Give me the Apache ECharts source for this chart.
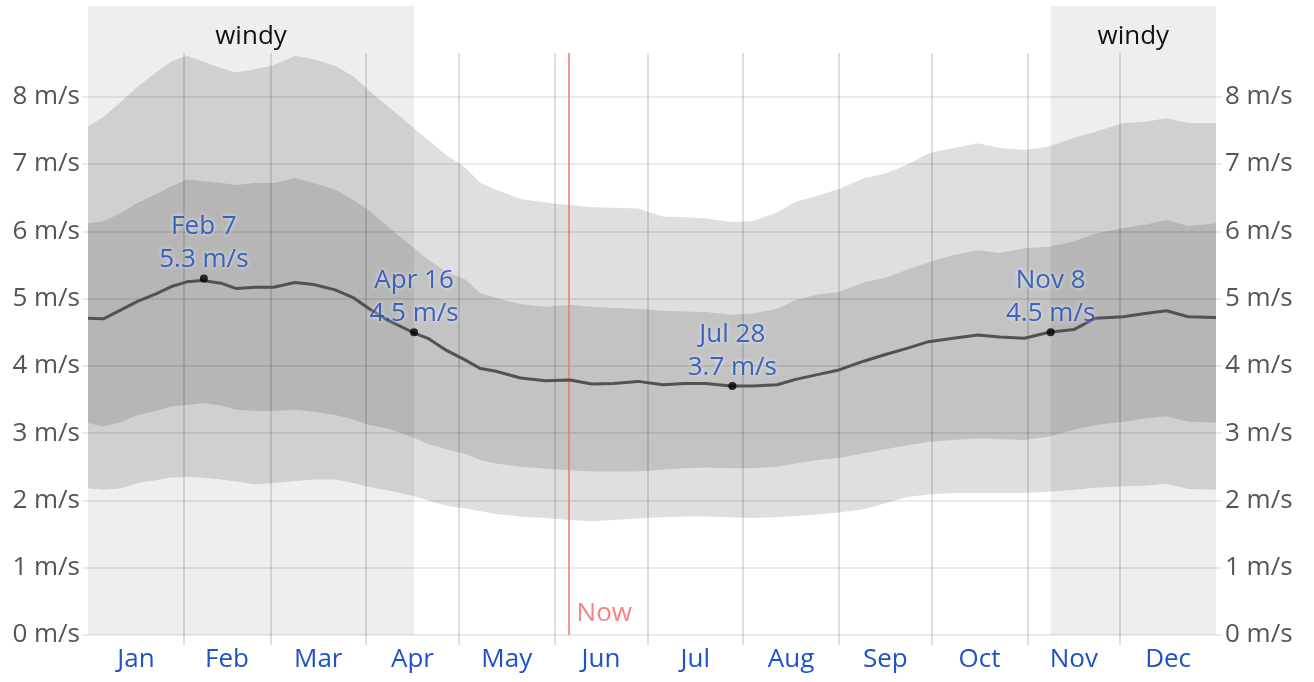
<!DOCTYPE html>
<html>
<head>
<meta charset="utf-8">
<title>Average wind speed</title>
<script src="https://cdn.jsdelivr.net/npm/echarts@6/dist/echarts.min.js"></script>
<style>
  html, body { margin: 0; padding: 0; background: #fff; }
  #chart { width: 1314px; height: 682px; }
</style>
</head>
<body>
<div id="chart"></div>
<script>
// day of year (0 = Jan 1)
const days = [0, 5, 11, 16, 22, 27, 32, 37, 43, 48,
  54, 60, 67, 73, 80, 86, 91, 97, 105, 110,
  116, 122, 127, 132, 140, 148, 156, 163, 170, 178,
  186, 193, 200, 208, 215, 223, 229, 236, 243, 251,
  258, 265, 272, 280, 288, 295, 303, 311, 319, 326,
  335, 342, 349, 356, 365]

// wind speed percentiles, m/s
const p10 = [2.18, 2.16, 2.18, 2.26, 2.30, 2.34, 2.35, 2.34, 2.31, 2.28,
  2.24, 2.26, 2.29, 2.31, 2.31, 2.26, 2.20, 2.15, 2.07, 2.00,
  1.92, 1.88, 1.84, 1.80, 1.76, 1.74, 1.71, 1.69, 1.71, 1.73,
  1.75, 1.76, 1.76, 1.75, 1.74, 1.75, 1.77, 1.79, 1.82, 1.87,
  1.96, 2.05, 2.09, 2.11, 2.11, 2.11, 2.11, 2.13, 2.16, 2.19,
  2.21, 2.22, 2.25, 2.17, 2.16]
const p25 = [3.15, 3.10, 3.17, 3.27, 3.33, 3.40, 3.42, 3.45, 3.41, 3.35,
  3.33, 3.33, 3.35, 3.32, 3.27, 3.20, 3.12, 3.07, 2.94, 2.84,
  2.76, 2.69, 2.60, 2.55, 2.50, 2.47, 2.45, 2.43, 2.43, 2.43,
  2.46, 2.48, 2.49, 2.48, 2.48, 2.50, 2.55, 2.60, 2.63, 2.70,
  2.76, 2.82, 2.87, 2.90, 2.92, 2.91, 2.90, 2.95, 3.05, 3.12,
  3.17, 3.22, 3.25, 3.17, 3.16]
const median = [4.71, 4.70, 4.84, 4.96, 5.07, 5.18, 5.25, 5.27, 5.23, 5.15,
  5.17, 5.17, 5.24, 5.21, 5.13, 5.01, 4.85, 4.68, 4.50, 4.41,
  4.23, 4.09, 3.96, 3.92, 3.82, 3.78, 3.79, 3.73, 3.74, 3.77,
  3.72, 3.74, 3.74, 3.70, 3.70, 3.72, 3.80, 3.87, 3.94, 4.07,
  4.17, 4.26, 4.36, 4.41, 4.46, 4.43, 4.41, 4.50, 4.54, 4.71,
  4.73, 4.78, 4.82, 4.73, 4.72]
const p75 = [6.12, 6.15, 6.28, 6.42, 6.55, 6.67, 6.77, 6.75, 6.72, 6.69,
  6.72, 6.72, 6.79, 6.72, 6.62, 6.46, 6.31, 6.07, 5.77, 5.58,
  5.40, 5.29, 5.08, 5.01, 4.92, 4.88, 4.91, 4.88, 4.86, 4.85,
  4.82, 4.81, 4.80, 4.76, 4.78, 4.85, 4.98, 5.06, 5.10, 5.24,
  5.31, 5.43, 5.54, 5.65, 5.72, 5.68, 5.75, 5.77, 5.85, 5.97,
  6.05, 6.10, 6.17, 6.08, 6.12]
const p90 = [7.56, 7.70, 7.94, 8.15, 8.36, 8.53, 8.61, 8.53, 8.43, 8.36,
  8.41, 8.47, 8.61, 8.56, 8.46, 8.30, 8.09, 7.86, 7.55, 7.36,
  7.13, 6.95, 6.72, 6.62, 6.48, 6.43, 6.39, 6.36, 6.35, 6.34,
  6.22, 6.21, 6.19, 6.14, 6.15, 6.28, 6.44, 6.53, 6.63, 6.79,
  6.86, 6.99, 7.16, 7.24, 7.31, 7.24, 7.21, 7.26, 7.39, 7.48,
  7.61, 7.63, 7.68, 7.61, 7.61]

const months = ['Jan', 'Feb', 'Mar', 'Apr', 'May', 'Jun', 'Jul', 'Aug', 'Sep', 'Oct', 'Nov', 'Dec']
const monthMids = [15.5, 45, 74.5, 105, 135.5, 166, 196.5, 227.5, 258, 288.5, 319, 349.5]
const monthStarts = [31, 59, 90, 120, 151, 181, 212, 243, 273, 304, 334]
const yTicks = [0, 1, 2, 3, 4, 5, 6, 7, 8]
const yMax = 9.35
// vertical lines stop below the "windy" labels
const vLineTop = 8.65

// windy season and "now"
const windyRanges = [[0, 105.5], [311.5, 365]]
const nowDay = 155.5

// annotated points on the median line
const noteNames = ['Feb 7', 'Apr 16', 'Jul 28', 'Nov 8']
const noteDays = [37.5, 105.5, 208.5, 311.5]
const noteValues = [5.3, 4.5, 3.7, 4.5]

const gridColor = 'rgba(0,0,0,0.08)'
const monthLineColor = 'rgba(0,0,0,0.17)'
const blue = '#1f52c4'
const labelFont = 26

const chart = echarts.init(document.getElementById('chart'))

const yAxisBase = {
  type: 'value',
  min: 0,
  max: yMax,
  interval: 1,
  z: 4,
  axisLine: { show: false },
  axisTick: {
    show: true,
    customValues: yTicks,
    length: 6,
    lineStyle: { color: gridColor, width: 2 }
  },
  axisLabel: {
    customValues: yTicks,
    formatter: (v) => v + ' m/s',
    color: '#555',
    fontSize: labelFont,
    margin: 8
  }
}

// bands are painted as opaque areas down to 0, widest first
function band (name, values, color) {
  return {
    name: name,
    type: 'line',
    data: days.map((d, i) => [d, values[i]]),
    showSymbol: false,
    lineStyle: { width: 0 },
    areaStyle: { color: color, opacity: 1 },
    silent: true,
    z: 2
  }
}

function vLine (day, color) {
  return [
    { coord: [day, 0], lineStyle: { color: color } },
    { coord: [day, vLineTop] }
  ]
}

const option = {
  animation: false,
  textStyle: { fontFamily: 'Open Sans' },
  grid: { left: 88, right: 98, top: 6, bottom: 47 },
  xAxis: {
    type: 'value',
    min: 0,
    max: 365,
    z: 4,
    axisLine: { show: false },
    axisTick: {
      show: true,
      customValues: monthStarts,
      length: 10,
      lineStyle: { color: monthLineColor, width: 1.5 }
    },
    splitLine: { show: false },
    axisLabel: {
      customValues: monthMids,
      formatter: (v) => months[monthMids.indexOf(v)],
      color: blue,
      fontSize: labelFont,
      margin: 12
    }
  },
  yAxis: [
    Object.assign({}, yAxisBase, {
      position: 'left',
      splitLine: {
        show: true,
        lineStyle: {
          width: 2,
          color: [gridColor, gridColor, gridColor, gridColor, gridColor, gridColor,
            gridColor, gridColor, gridColor, 'transparent', 'transparent']
        }
      }
    }),
    Object.assign({}, yAxisBase, {
      position: 'right',
      splitLine: { show: false },
      axisLabel: Object.assign({}, yAxisBase.axisLabel, { margin: 9 })
    })
  ],
  series: [
    band('p90', p90, '#dfdfdf'),
    band('p75', p75, '#c3c3c3'),
    band('p25', p25, '#dfdfdf'),
    band('p10', p10, '#ffffff'),
    {
      // windy shading, month lines and now line, over the bands
      type: 'line',
      data: [],
      silent: true,
      z: 4,
      markArea: {
        silent: true,
        z: 4,
        itemStyle: { color: 'rgba(0,0,0,0.067)' },
        label: {
          show: true,
          position: 'insideTop',
          distance: 18,
          color: '#111',
          fontSize: labelFont
        },
        data: windyRanges.map((r) => [{ xAxis: r[0], name: 'windy' }, { xAxis: r[1] }])
      },
      markLine: {
        silent: true,
        z: 5,
        symbol: 'none',
        label: { show: false },
        lineStyle: { width: 1.5, type: 'solid' },
        data: monthStarts.map((d) => vLine(d, monthLineColor)).concat([vLine(nowDay, '#f07474')])
      },
      markPoint: {
        silent: true,
        z: 5,
        symbol: 'circle',
        symbolSize: 0,
        label: {
          show: true,
          position: 'right',
          distance: 8,
          formatter: 'Now',
          color: '#f58585',
          fontSize: labelFont
        },
        data: [{ coord: [nowDay, 0.32] }]
      }
    },
    {
      name: 'median',
      type: 'line',
      data: days.map((d, i) => [d, median[i]]),
      showSymbol: false,
      lineStyle: { color: '#525252', width: 3 },
      silent: true,
      z: 6
    },
    {
      name: 'notes',
      type: 'scatter',
      data: noteDays.map((d, i) => ({ value: [d, noteValues[i]], name: noteNames[i] })),
      symbolSize: 8,
      itemStyle: { color: '#000' },
      label: {
        show: true,
        position: 'top',
        distance: -2,
        formatter: (p) => p.name + '\n' + p.value[1].toFixed(1) + ' m/s',
        color: '#1746b8',
        fontSize: labelFont,
        lineHeight: 33,
        textShadowColor: 'rgba(255,255,255,0.95)',
        textShadowBlur: 4
      },
      silent: true,
      z: 7
    }
  ]
}

chart.setOption(option)
</script>
</body>
</html>
